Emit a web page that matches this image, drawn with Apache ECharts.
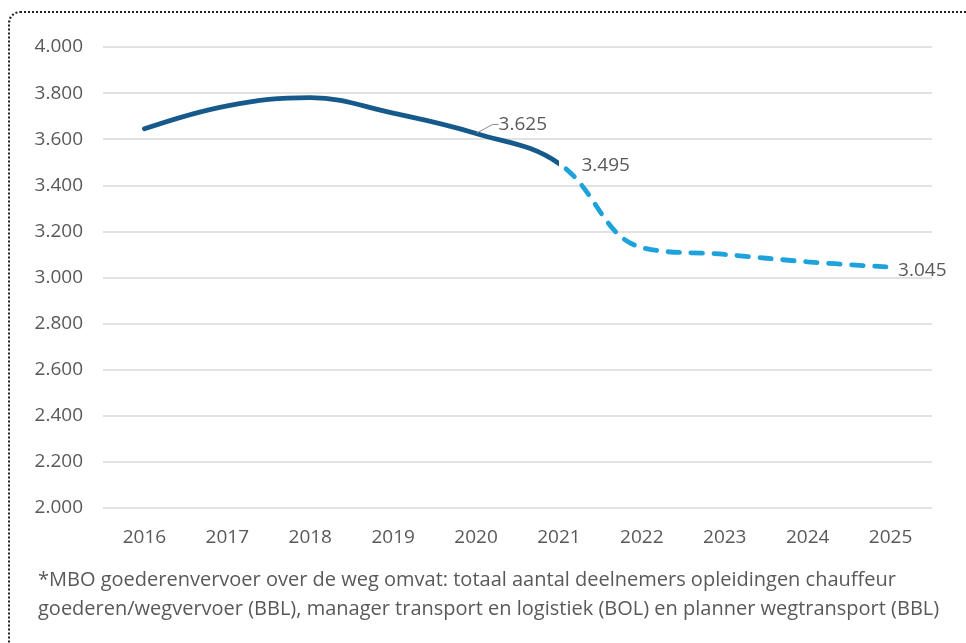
<!DOCTYPE html>
<html>
<head>
<meta charset="utf-8">
<script src="https://cdn.jsdelivr.net/npm/echarts@6/dist/echarts.min.js"></script>
<style>
  html, body { margin: 0; padding: 0; background: #fff; overflow: hidden; }
  #frame { position: absolute; left: 8px; top: 11px; width: 1000px; height: 700px;
           border: 2px dotted #222; border-radius: 12px; box-sizing: border-box; }
  #chart { position: absolute; left: 0; top: 0; width: 966px; height: 643px; }
</style>
</head>
<body>
<div id="frame"></div>
<div id="chart"></div>
<script>
// jaren en deelnemers (t/m 2021 realisatie, daarna prognose)
const years = ['2016', '2017', '2018', '2019', '2020', '2021', '2022', '2023', '2024', '2025']
const participants = [3645, 3745, 3780, 3713, 3625, 3495, 3130, 3100, 3068, 3045]
const lastActualYear = '2021'
const labelledActual = ['2020', '2021']
const labelledForecast = ['2025']
const footnote = [
  '*MBO goederenvervoer over de weg omvat: totaal aantal deelnemers opleidingen chauffeur',
  'goederen/wegvervoer (BBL), manager transport en logistiek (BOL) en planner wegtransport (BBL)'
]

const fmt = v => String(v).replace(/\B(?=(\d{3})+(?!\d))/g, '.')
const font = '"Open Sans", "Noto Sans", sans-serif'
const grey = '#595959'
const dark = '#155a8a'
const light = '#1ea2dc'

let chart = echarts.init(document.getElementById('chart'))

// alleen de punten met een label krijgen een (onzichtbaar) symbool
function point(v, label, extra) {
  if (!label) return { value: v, symbol: 'none' }
  return Object.assign({
    value: v,
    symbol: 'circle',
    symbolSize: 1,
    itemStyle: { color: 'rgba(0,0,0,0)', borderWidth: 0 },
    label: Object.assign({ show: true, position: 'right' }, label)
  }, extra)
}

let actualData = participants.map((v, i) => {
  if (years[i] === '2020') {
    return point(v, { offset: [10, -9], padding: [0, 0, 0, 7] },
      { labelLine: { show: true, length2: 6, lineStyle: { color: '#8c8c8c', width: 1 } } })
  }
  if (labelledActual.includes(years[i])) return point(v, { offset: [17, 2] })
  return point(v)
})
let forecastData = participants.map((v, i) =>
  labelledForecast.includes(years[i]) ? point(v, { offset: [2, 3] }) : point(v))

const labelStyle = { color: grey, fontSize: 19, fontFamily: font, formatter: p => fmt(p.value) }

function split(left, right, f) {
  return {
    type: 'linear', x: 0, y: 0, x2: 966, y2: 0, global: true,
    colorStops: [
      { offset: 0, color: left }, { offset: f, color: left },
      { offset: f, color: right }, { offset: 1, color: right }
    ]
  }
}

chart.setOption({
  animation: false,
  textStyle: { fontFamily: font },
  grid: { left: 103, right: 34, top: 47, bottom: 135 },
  xAxis: {
    type: 'category',
    data: years,
    boundaryGap: true,
    axisLine: { show: false },
    axisTick: { show: false },
    axisLabel: { color: grey, fontSize: 19, margin: 20, fontFamily: font }
  },
  yAxis: {
    type: 'value',
    min: 2000,
    max: 4000,
    interval: 200,
    axisLine: { show: false },
    axisTick: { show: false },
    splitLine: { lineStyle: { color: '#d9d9d9', width: 1.5 } },
    axisLabel: { color: grey, fontSize: 19, margin: 20, fontFamily: font, formatter: v => fmt(v) }
  },
  series: [
    {
      name: 'realisatie',
      type: 'line',
      data: actualData,
      smooth: 0.4,
      showSymbol: true,
      lineStyle: { color: dark, width: 4.8, cap: 'round' },
      label: labelStyle,
      z: 3
    },
    {
      name: 'prognose',
      type: 'line',
      data: forecastData,
      smooth: 0.4,
      showSymbol: true,
      lineStyle: { color: light, width: 4.8, type: [11.5, 11.5], cap: 'round' },
      label: labelStyle,
      z: 2
    }
  ],
  graphic: footnote.map((t, i) => ({
    type: 'text',
    left: 38,
    top: 570 + i * 29,
    style: { text: t, fill: grey, fontSize: 20, fontFamily: font }
  }))
})

// de lijn wisselt bij het laatste realisatiejaar van stijl
let cut = chart.convertToPixel({ xAxisIndex: 0 }, lastActualYear) / 966
chart.setOption({
  series: [
    { name: 'realisatie', lineStyle: { color: split(dark, 'rgba(0,0,0,0)', cut) } },
    { name: 'prognose', lineStyle: { color: split('rgba(0,0,0,0)', light, cut) } }
  ]
})
</script>
</body>
</html>
